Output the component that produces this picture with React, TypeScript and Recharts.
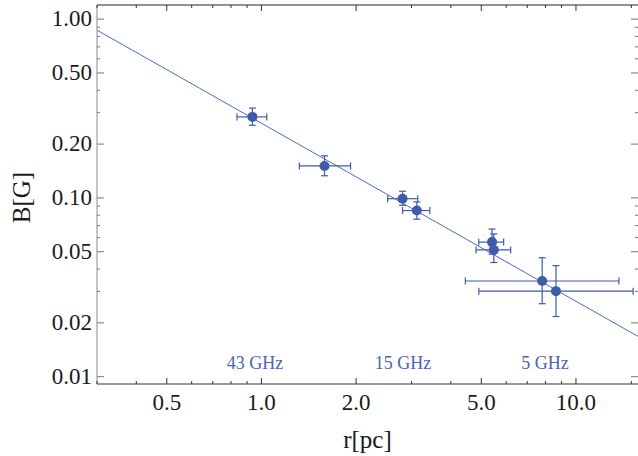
import React from 'react';
import {
  ComposedChart, Scatter, Line, XAxis, YAxis, ErrorBar, ReferenceLine
} from 'recharts';

// measured points: r [pc] and B [G], with error ranges
const radius = [0.936, 1.587, 2.81, 3.12, 5.41, 5.48, 7.81, 8.64];
const radiusLow = [0.836, 1.32, 2.52, 2.81, 4.91, 4.81, 4.45, 4.91];
const radiusHigh = [1.04, 1.92, 3.14, 3.43, 5.89, 6.2, 13.7, 15.2];
const field = [0.284, 0.151, 0.099, 0.085, 0.0566, 0.0512, 0.0343, 0.0301];
const fieldLow = [0.255, 0.133, 0.091, 0.076, 0.0485, 0.0435, 0.0256, 0.0217];
const fieldHigh = [0.318, 0.172, 0.109, 0.095, 0.067, 0.0629, 0.0463, 0.0418];

// fitted power law, read at the two frame edges
const fitRadius = [0.3, 15.75];
const fitField = [0.868, 0.0168];

// frequency annotations
const bandNames = ['43 GHz', '15 GHz', '5 GHz'];
const bandRadius = [0.954, 2.82, 7.97];
const bandField = [0.0119, 0.0119, 0.0119];

const X_DOMAIN: [number, number] = [0.3, 15.75];
const Y_DOMAIN: [number, number] = [0.0091, 1.2];

const xMajor = [0.5, 1, 2, 5, 10];
const xMinor = [0.3, 0.4, 0.6, 0.7, 0.8, 0.9, 3, 4, 6, 7, 8, 9, 15];
const yMajor = [0.01, 0.02, 0.05, 0.1, 0.2, 0.5, 1];
const yMinor = [0.03, 0.04, 0.06, 0.07, 0.08, 0.09, 0.3, 0.4, 0.6, 0.7, 0.8, 0.9];

const BLUE = '#3f5ba9';
const TEXT_BLUE = '#4a64b4';
const LINE_BLUE = '#4a6bc0';
const SERIF = "'Liberation Serif', Tinos, 'Times New Roman', 'DejaVu Serif', serif";

const W = 638;
const H = 456;
const PLOT_TOP = 5;
const PLOT_RIGHT = 638;

const points = radius.map((r, i) => ({
  r,
  B: field[i],
  ex: [r - radiusLow[i], radiusHigh[i] - r],
  ey: [field[i] - fieldLow[i], fieldHigh[i] - field[i]],
}));
const fit = fitRadius.map((r, i) => ({ r, B: fitField[i] }));
const bands = bandNames.map((label, i) => ({ r: bandRadius[i], B: bandField[i], label }));

const XTick = (props: any) => {
  const { x, y, payload } = props;
  const major = xMajor.includes(payload.value);
  const len = major ? 6 : 3;
  return (
    <g>
      <line x1={x} x2={x} y1={y} y2={y - len} stroke="#333" strokeWidth={1} />
      <line x1={x} x2={x} y1={PLOT_TOP} y2={PLOT_TOP + len} stroke="#333" strokeWidth={1} />
      {major && (
        <text x={x} y={y + 26} textAnchor="middle" fill="#1a1a1a" style={{ fontSize: 23, fontFamily: SERIF }}>
          {Number(payload.value).toFixed(1)}
        </text>
      )}
    </g>
  );
};

const YTick = (props: any) => {
  const { x, y, payload } = props;
  const major = yMajor.includes(payload.value);
  const len = major ? 7 : 3;
  return (
    <g>
      <line x1={x} x2={x + len} y1={y} y2={y} stroke="#777" strokeWidth={1} />
      <line x1={PLOT_RIGHT} x2={PLOT_RIGHT - len} y1={y} y2={y} stroke="#777" strokeWidth={1} />
      {major && (
        <text x={x - 5} y={y + 7} textAnchor="end" fill="#1a1a1a" style={{ fontSize: 23, fontFamily: SERIF }}>
          {Number(payload.value).toFixed(2)}
        </text>
      )}
    </g>
  );
};

const Dot = (p: any) => <circle cx={p.cx} cy={p.cy} r={5} fill={BLUE} />;

const BandLabel = (p: any) => (
  <text x={p.cx} y={p.cy + 6} textAnchor="middle" fill={TEXT_BLUE} style={{ fontSize: 18, fontFamily: SERIF }}>
    {p.payload.label}
  </text>
);

export default function App() {
  return (
    <div style={{ position: 'fixed', left: 0, top: 0, width: W, height: H, background: '#fff', fontFamily: SERIF }}>
      <ComposedChart width={W} height={H} margin={{ top: PLOT_TOP, right: W - PLOT_RIGHT, bottom: 0, left: 0 }}>
        <XAxis
          dataKey="r"
          type="number"
          scale="log"
          domain={X_DOMAIN}
          allowDataOverflow
          ticks={[...xMajor, ...xMinor].sort((a, b) => a - b)}
          interval={0}
          tickLine={false}
          tickSize={0}
          tickMargin={0}
          tick={<XTick />}
          axisLine={{ stroke: '#333' }}
          height={72}
          label={{
            content: (lp: any) => {
              const vb = lp.viewBox;
              return (
                <text x={vb.x + vb.width / 2} y={vb.y + 64} textAnchor="middle" fill="#1a1a1a" style={{ fontSize: 25, fontFamily: SERIF }}>
                  r[pc]
                </text>
              );
            },
          }}
        />
        <YAxis
          dataKey="B"
          type="number"
          scale="log"
          domain={Y_DOMAIN}
          allowDataOverflow
          ticks={[...yMajor, ...yMinor].sort((a, b) => a - b)}
          interval={0}
          tickLine={false}
          tickSize={0}
          tickMargin={0}
          tick={<YTick />}
          axisLine={{ stroke: '#8a8a8a' }}
          width={97}
          label={{
            content: (lp: any) => {
              const vb = lp.viewBox;
              const cx = vb.x + 21;
              const cy = vb.y + vb.height / 2 + 3;
              return (
                <text x={cx} y={cy} transform={`rotate(-90 ${cx} ${cy})`} textAnchor="middle" dominantBaseline="central" fill="#1a1a1a" style={{ fontSize: 25, fontFamily: SERIF }}>
                  B[G]
                </text>
              );
            },
          }}
        />
        <ReferenceLine y={Y_DOMAIN[1]} stroke="#222" strokeWidth={1} />
        <Line
          data={fit}
          dataKey="B"
          type="linear"
          stroke={LINE_BLUE}
          strokeWidth={1}
          dot={false}
          activeDot={false}
          isAnimationActive={false}
        />
        <Scatter data={points} shape={<Dot />} isAnimationActive={false}>
          <ErrorBar dataKey="ex" direction="x" width={3.5} stroke={BLUE} strokeWidth={1.2} isAnimationActive={false} />
          <ErrorBar dataKey="ey" direction="y" width={3.5} stroke={BLUE} strokeWidth={1.2} isAnimationActive={false} />
        </Scatter>
        <Scatter data={bands} shape={<BandLabel />} isAnimationActive={false} />
      </ComposedChart>
    </div>
  );
}
